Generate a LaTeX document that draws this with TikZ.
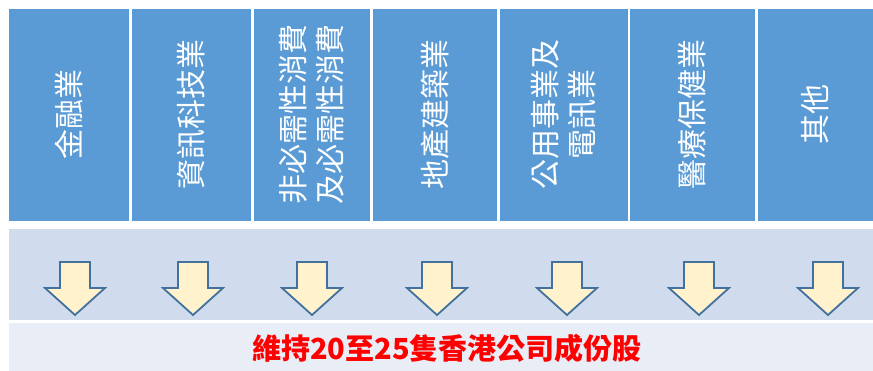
\documentclass[tikz,border=0pt]{standalone}
\usepackage{fontspec}
\newfontfamily\cjk{Noto Sans CJK TC}
\definecolor{boxblue}{HTML}{5B9BD5}
\definecolor{bandblue}{HTML}{D0DCEE}
\definecolor{bandpale}{HTML}{E9EDF6}
\definecolor{arrowline}{HTML}{41719C}
\definecolor{arrowfill}{HTML}{FFF2CC}
\tikzset{
  catbox/.style={fill=boxblue, draw=none},
  vtext/.style={rotate=90, align=center, text=white, inner sep=0pt,
    font=\cjk\fontsize{30}{37}\selectfont},
  downarrow/.style={draw=arrowline, fill=arrowfill, line width=1.8pt, line join=miter},
  resulttext/.style={text=red, inner sep=0pt, font=\cjk\bfseries\fontsize{29}{31}\selectfont}
}
\begin{document}
\begin{tikzpicture}[x=1pt,y=-1pt]
\useasboundingbox (0,0) rectangle (873,371);
\fill[white] (0,0) rectangle (873,371);
% category boxes
\foreach \l/\r in {9/129,132/251,254/370,373/497,500/628,630/755,758/873}
  \path[catbox] (\l,9) rectangle (\r,221);
\node[vtext] (c1) at (69,115) {金融業};
\node[vtext] (c2) at (191.5,115) {資訊科技業};
\node[vtext] (c3) at (312,115) {非必需性消費\\及必需性消費};
\node[vtext] (c4) at (435,115) {地產建築業};
\node[vtext] (c5) at (564,115) {公用事業及\\電訊業};
\node[vtext] (c6) at (692.5,115) {醫療保健業};
\node[vtext] (c7) at (815.5,115) {其他};
% bands
\fill[bandblue] (9,229) rectangle (873,320);
\fill[bandpale] (9,323) rectangle (873,371);
% arrows
\foreach \cx in {75,193,312,437,567,699,828}
  \draw[downarrow] (\cx-15,262) -- (\cx+15,262) -- (\cx+15,288) -- (\cx+30,288)
    -- (\cx,315) -- (\cx-30,288) -- (\cx-15,288) -- cycle;
\node[resulttext] (res) at (447,348) {維持20至25隻香港公司成份股};
\end{tikzpicture}
\end{document}
